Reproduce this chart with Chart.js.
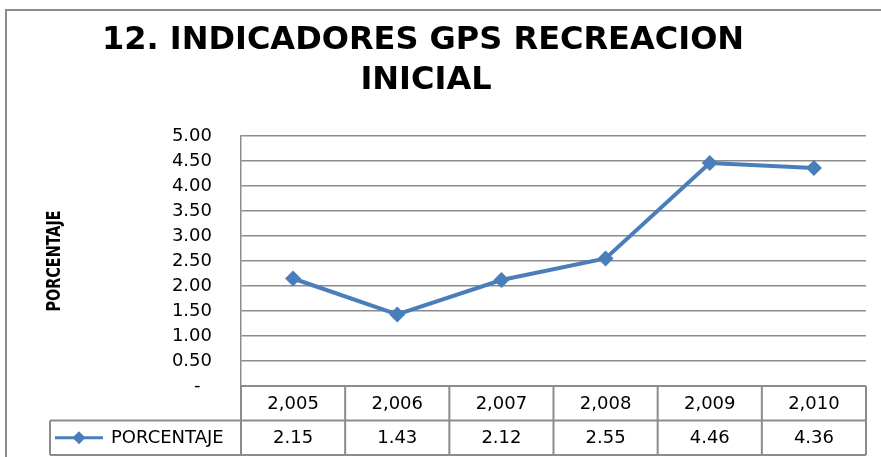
<!DOCTYPE html>
<html>
<head>
<meta charset="utf-8">
<script src="https://cdn.jsdelivr.net/npm/chart.js@4.4.1/dist/chart.umd.min.js"></script>
<style>
  body { margin: 0; background: #fff; }
  canvas { display: block; }
</style>
</head>
<body>
<canvas id="grafico" width="881" height="457"></canvas>
<script>
const titulo = ['12. INDICADORES GPS RECREACION', 'INICIAL'];
const anios = ['2,005', '2,006', '2,007', '2,008', '2,009', '2,010'];
const porcentaje = [2.15, 1.43, 2.12, 2.55, 4.46, 4.36];
const serie = 'PORCENTAJE';
const ejeY = 'PORCENTAJE';

const azul = '#4a7ebb';
const gris = '#8c8c8c';

// titulo, nombre del eje y tabla de datos debajo del grafico
const extras = {
  id: 'extras',
  afterDraw(chart) {
    const ctx = chart.ctx;
    const area = chart.chartArea;
    const x = chart.scales.x;
    ctx.save();

    // marco exterior
    ctx.strokeStyle = gris;
    ctx.lineWidth = 2;
    ctx.beginPath();
    ctx.moveTo(6, 457);
    ctx.lineTo(6, 10);
    ctx.lineTo(881, 10);
    ctx.stroke();

    // titulo
    ctx.fillStyle = '#000';
    ctx.font = 'bold 32px "DejaVu Sans"';
    ctx.textAlign = 'center';
    ctx.textBaseline = 'alphabetic';
    ctx.fillText(titulo[0], 423, 49);
    ctx.fillText(titulo[1], 426, 89);

    // nombre del eje
    ctx.save();
    ctx.translate(55, 261);
    ctx.scale(1.25, 1);
    ctx.rotate(-Math.PI / 2);
    ctx.font = 'bold 16px "Liberation Sans Narrow", "DejaVu Sans Condensed", "Liberation Sans"';
    ctx.textBaseline = 'middle';
    ctx.fillText(ejeY, 0, 0);
    ctx.restore();

    // tabla
    const ancho = (area.right - area.left) / anios.length;
    const fila = 34.5;
    const y0 = area.bottom;
    const y1 = y0 + fila;
    const y2 = y1 + fila;
    ctx.strokeStyle = gris;
    ctx.lineWidth = 2;
    ctx.beginPath();
    ctx.moveTo(area.left, y0);
    ctx.lineTo(area.right, y0);
    ctx.moveTo(50, y1);
    ctx.lineTo(area.right, y1);
    ctx.moveTo(50, y2);
    ctx.lineTo(area.right, y2);
    ctx.moveTo(50, y1);
    ctx.lineTo(50, y2);
    for (let i = 0; i <= anios.length; i++) {
      const px = area.left + i * ancho;
      ctx.moveTo(px, y0);
      ctx.lineTo(px, y2);
    }
    ctx.stroke();

    ctx.fillStyle = '#000';
    ctx.font = '18px "DejaVu Sans"';
    ctx.textAlign = 'center';
    ctx.textBaseline = 'middle';
    anios.forEach((a, i) => {
      const cx = x.getPixelForValue(i);
      ctx.fillText(a, cx, (y0 + y1) / 2 + 1);
      ctx.fillText(porcentaje[i].toFixed(2), cx, (y1 + y2) / 2 + 1);
    });

    // clave de la serie
    const ym = (y1 + y2) / 2;
    ctx.strokeStyle = azul;
    ctx.lineWidth = 3;
    ctx.beginPath();
    ctx.moveTo(55, ym);
    ctx.lineTo(103, ym);
    ctx.stroke();
    ctx.fillStyle = azul;
    ctx.beginPath();
    ctx.moveTo(79, ym - 6.5);
    ctx.lineTo(85.5, ym);
    ctx.lineTo(79, ym + 6.5);
    ctx.lineTo(72.5, ym);
    ctx.closePath();
    ctx.fill();
    ctx.fillStyle = '#000';
    ctx.textAlign = 'left';
    ctx.fillText(serie, 111, ym + 1);

    ctx.restore();
  }
};

new Chart(document.getElementById('grafico'), {
  type: 'line',
  data: {
    labels: anios,
    datasets: [{
      label: serie,
      data: porcentaje,
      borderColor: azul,
      backgroundColor: azul,
      borderWidth: 4,
      pointStyle: 'rectRot',
      pointRadius: 8,
      pointBorderWidth: 0,
      pointBackgroundColor: azul,
      tension: 0
    }]
  },
  options: {
    responsive: false,
    animation: false,
    layout: { padding: { top: 136, bottom: 71, right: 15, left: 0 } },
    plugins: {
      legend: { display: false },
      tooltip: { enabled: false }
    },
    scales: {
      x: { display: false, offset: true },
      y: {
        min: 0,
        max: 5,
        afterFit(scale) { scale.width = 241; },
        ticks: {
          stepSize: 0.5,
          padding: 29,
          color: '#000',
          font: { family: 'DejaVu Sans', size: 18 },
          callback: v => v === 0 ? '-  ' : v.toFixed(2)
        },
        grid: { color: gris, lineWidth: 1.5, drawTicks: false },
        border: { color: gris, width: 1.5 }
      }
    }
  },
  plugins: [extras]
});
</script>
</body>
</html>
